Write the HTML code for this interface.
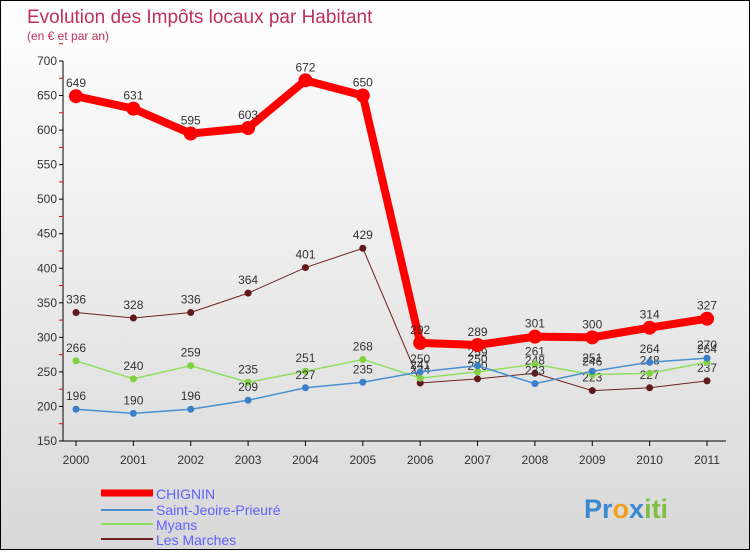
<!DOCTYPE html>
<html><head><meta charset="utf-8"><style>
body{margin:0;width:750px;height:550px;overflow:hidden;font-family:"Liberation Sans",sans-serif}
#c{position:relative;width:748px;height:548px;border:1px solid #000;background:linear-gradient(#fff,#d8d8d8)}
</style></head><body>
<div id="c">
<svg width="748" height="548" id="svg">
<text x="26" y="22" font-size="19" fill="#c0305a">Evolution des Impôts locaux par Habitant</text>
<text x="26" y="39" font-size="12" fill="#c0305a">(en € et par an)</text>
<g id="axes"></g><g id="series"></g>
<g>
<line x1="100" y1="492" x2="152" y2="492" stroke="#f00" stroke-width="7"/><text x="155" y="498" font-size="14" fill="#6060ff">CHIGNIN</text>
<line x1="100" y1="509" x2="152" y2="509" stroke="#4a90d0" stroke-width="2"/><text x="155" y="514" font-size="14" fill="#6060ff">Saint-Jeoire-Prieuré</text>
<line x1="100" y1="523" x2="152" y2="523" stroke="#90e060" stroke-width="2"/><text x="155" y="529" font-size="14" fill="#6060ff">Myans</text>
<line x1="100" y1="538" x2="152" y2="538" stroke="#702020" stroke-width="2"/><text x="155" y="544" font-size="14" fill="#6060ff">Les Marches</text>
</g>
<text x="583" y="517" font-size="27" font-weight="bold"><tspan fill="#3a8ad0">Pr</tspan><tspan fill="#f0a020">o</tspan><tspan fill="#3a8ad0">x</tspan><tspan fill="#80c040">iti</tspan></text>
</svg></div>
<script>
const years=[2000,2001,2002,2003,2004,2005,2006,2007,2008,2009,2010,2011];
const yTicks=[150,200,250,300,350,400,450,500,550,600,650,700];
const chignin=[649,631,595,603,672,650,292,289,301,300,314,327];
const saintJeoire=[196,190,196,209,227,235,250,259,233,251,264,270];
const myans=[266,240,259,235,251,268,241,250,261,246,248,264];
const lesMarches=[336,328,336,364,401,429,234,240,248,223,227,237];
const NS="http://www.w3.org/2000/svg";
const X=i=>75+i*(706-75)/11, Y=v=>60+(700-v)*380/550;
function mk(t,a,p){const e=document.createElementNS(NS,t);for(const k in a)e.setAttribute(k,a[k]);p.appendChild(e);return e;}
const ax=document.getElementById('axes');
mk('line',{x1:62,y1:60,x2:62,y2:440,stroke:'#000'},ax);
mk('line',{x1:62,y1:440,x2:725,y2:440,stroke:'#000'},ax);
yTicks.forEach(v=>{mk('line',{x1:58,y1:Y(v),x2:62,y2:Y(v),stroke:'#000'},ax);
mk('line',{x1:58,y1:Y(v+25),x2:62,y2:Y(v+25),stroke:'#e00'},ax);
const t=mk('text',{x:56,y:Y(v)+4,'font-size':12,fill:'#333','text-anchor':'end'},ax);t.textContent=v;

});
years.forEach((y,i)=>{mk('line',{x1:X(i),y1:440,x2:X(i),y2:445,stroke:'#000'},ax);
const t=mk('text',{x:X(i),y:463,'font-size':12,fill:'#333','text-anchor':'middle'},ax);t.textContent=y;

});
const sg=document.getElementById('series');
function draw(vals,col,w,r,dot,name){const g=mk('g',{},sg);


mk('polyline',{points:vals.map((v,i)=>X(i)+','+Y(v)).join(' '),fill:'none',stroke:col,'stroke-width':w},g);
vals.forEach((v,i)=>{const c=mk('circle',{cx:X(i),cy:Y(v),r:r,fill:dot},g);


const t=mk('text',{x:X(i),y:Y(v)-9,'font-size':12,fill:'#333','text-anchor':'middle'},g);t.textContent=v;

});}
draw(lesMarches,'#702020',1,3.5,'#601818','series-les-marches');
draw(myans,'#90e060',1.5,3.5,'#80d040','series-myans');
draw(saintJeoire,'#4a90d0',1.5,3.5,'#3a80c8','series-saint-jeoire');
draw(chignin,'#f00',8,7,'#f00','series-chignin');
</script>
</body></html>
